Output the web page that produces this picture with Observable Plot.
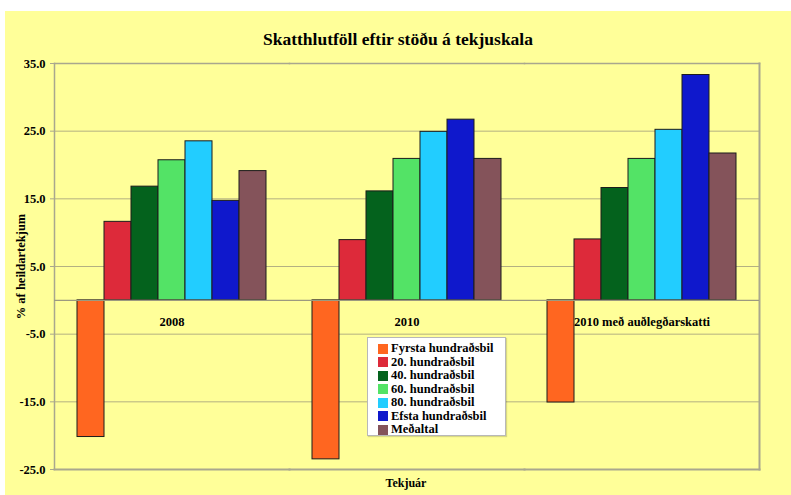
<!DOCTYPE html>
<html>
<head>
<meta charset="utf-8">
<script src="https://cdn.jsdelivr.net/npm/d3@7"></script>
<script src="https://cdn.jsdelivr.net/npm/@observablehq/plot@0.6"></script>
<style>
  html, body { margin: 0; padding: 0; background: #ffffff; }
  #chart {
    position: absolute; left: 5px; top: 11px; width: 786px; height: 484px;
    background: #FFFF99; font-family: "Liberation Serif", "Times New Roman", serif;
  }
  #title {
    height: 40px; box-sizing: border-box; padding-top: 19px;
    text-align: center; font-weight: bold; font-size: 17.5px; line-height: 18px; color: #000;
  }
  #plot { position: absolute; left: 0; top: 40px; }
  #xlabel {
    position: absolute; left: 0; top: 463px; width: 802px; text-align: center;
    font-weight: bold; font-size: 12px; line-height: 18px;
  }
  #legend {
    position: absolute; left: 362px; top: 326px; width: 139px; height: 99px;
    box-sizing: border-box; background: #ffffff; border: 1px solid #b8b8b8;
    box-shadow: 1px 1px 1px rgba(0,0,0,0.15); padding: 4px 0 0 10px;
  }
  .item { display: flex; align-items: center; height: 13.5px; font-weight: bold; font-size: 12.5px; white-space: nowrap; }
  .sw { width: 10px; height: 10px; margin-right: 3px; flex: none; }
  svg { display: block; overflow: visible; }
</style>
</head>
<body>
<div id="chart">
  <div id="title"></div>
  <div id="plot"></div>
  <div id="xlabel"></div>
  <div id="legend"></div>
</div>
<script>
const groups = ["2008", "2010", "2010 með auðlegðarskatti"];
const series = ["Fyrsta hundraðsbil", "20. hundraðsbil", "40. hundraðsbil", "60. hundraðsbil", "80. hundraðsbil", "Efsta hundraðsbil", "Meðaltal"];
const colors = ["#FF6620", "#DD2A3A", "#04621D", "#53E366", "#22CDFF", "#0F18CC", "#84535A"];
const values2008 = [-20.2, 11.6, 16.8, 20.7, 23.5, 14.7, 19.1];
const values2010 = [-23.5, 8.9, 16.1, 20.9, 24.9, 26.7, 20.9];
const values2010w = [-15.1, 9.0, 16.6, 20.9, 25.2, 33.3, 21.7];
const yTicks = [-25, -15, -5, 5, 15, 25, 35];
const titleText = "Skatthlutföll eftir stöðu á tekjuskala";
const yLabel = "% af heildartekjum";
const xLabel = "Tekjuár";

const valueSets = [values2008, values2010, values2010w];
const data = [];
groups.forEach((g, gi) => series.forEach((s, si) => data.push({group: g, series: s, value: valueSets[gi][si]})));

document.getElementById("title").textContent = titleText;
document.getElementById("xlabel").textContent = xLabel;

const gridColor = "#B4B182";
const frameColor = "#A9A78E";

const plot = Plot.plot({
  width: 786,
  height: 430,
  marginLeft: 49,
  marginRight: 32,
  marginTop: 12,
  marginBottom: 12,
  style: {background: "transparent", fontFamily: "Liberation Serif, Times New Roman, serif", color: "#000"},
  fx: {domain: groups, padding: 0, axis: null},
  x: {domain: series, paddingInner: 0, paddingOuter: 0.74, axis: null},
  y: {domain: [-25, 35], axis: null},
  color: {domain: series, range: colors},
  marks: [
    Plot.gridY(yTicks, {stroke: gridColor, strokeOpacity: 1, strokeWidth: 1}),
    Plot.frame({anchor: "left", facetAnchor: "left", stroke: frameColor, strokeWidth: 1.5}),
    Plot.frame({anchor: "right", facetAnchor: "right", stroke: frameColor, strokeWidth: 2}),
    Plot.frame({anchor: "top", stroke: frameColor, strokeWidth: 1.5}),
    Plot.frame({anchor: "bottom", stroke: frameColor, strokeWidth: 2}),
    Plot.barY(data, {fx: "group", x: "series", y: "value", fill: "series", stroke: "#1c1c1c", strokeWidth: 1, inset: 0}),
    Plot.ruleY([0], {stroke: "#9c9a80", strokeWidth: 1.2}),
    Plot.text(groups, {fx: d => d, text: d => d, y: 0, dy: 22, fontWeight: "bold", fontSize: 12.5, fill: "#000"}),
    Plot.axisY(yTicks, {
      anchor: "left", tickSize: 4, tickPadding: 5, stroke: frameColor, label: null,
      tickFormat: d => d.toFixed(1), fontSize: 12.5, fontWeight: "bold"
    }),
    Plot.axisY({
      anchor: "left", ticks: [], tickSize: 0,
      label: yLabel, labelAnchor: "center", labelArrow: "none", labelOffset: 38,
      fontSize: 12.5, fontWeight: "bold"
    })
  ]
});
document.getElementById("plot").appendChild(plot);

const legend = document.getElementById("legend");
series.forEach((s, i) => {
  const row = document.createElement("div");
  row.className = "item";
  const sw = document.createElement("span");
  sw.className = "sw";
  sw.style.background = colors[i];
  const t = document.createElement("span");
  t.textContent = s;
  row.appendChild(sw); row.appendChild(t);
  legend.appendChild(row);
});
</script>
</body>
</html>
